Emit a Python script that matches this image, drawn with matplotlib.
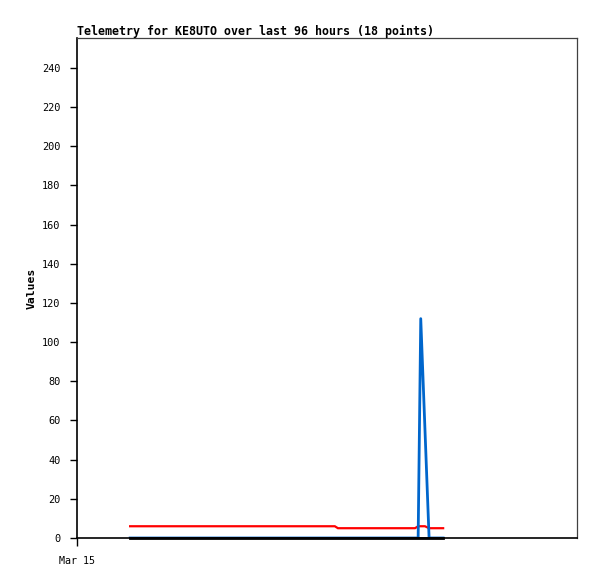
import matplotlib
matplotlib.use("Agg")
import matplotlib.pyplot as plt

# hours since Mar 15 00:00 (axis start)
hours = [10.2, 16.9, 23.6, 30.3, 37.1, 43.8, 49.5, 50.1, 56.3, 62.0,
         64.9, 65.5, 66.0, 66.8, 67.6, 68.2, 69.3, 70.3]
red_vals = [6, 6, 6, 6, 6, 6, 6, 5, 5, 5, 5, 6, 6, 6, 5, 5, 5, 5]
blue_vals = [0, 0, 0, 0, 0, 0, 0, 0, 0, 0, 0, 0, 112, 56, 0, 0, 0, 0]
black_vals = [0] * 18

title = "Telemetry for KE8UTO over last 96 hours (18 points)"
ylabel = "Values"
yticks = [0, 20, 40, 60, 80, 100, 120, 140, 160, 180, 200, 220, 240]
xtick_pos = [0]
xtick_labels = ["Mar 15"]

W, H = 597, 579
fig = plt.figure(figsize=(W / 100, H / 100), dpi=100)
ax = fig.add_axes([77 / W, (H - 538) / H, 500 / W, 500 / H])

mono = "DejaVu Sans Mono"
ax.plot(hours, red_vals, color="#ff0000", lw=1.6, solid_joinstyle="miter")
ax.plot(hours, blue_vals, color="#0066cc", lw=2.0)
ax.plot(hours, black_vals, color="#000000", lw=2.0, clip_on=False, zorder=3)

ax.set_xlim(0, 96)
ax.set_ylim(0, 255.3)
ax.set_yticks(yticks)
ax.set_yticklabels([str(v) for v in yticks], family=mono, fontsize=7.4)
ax.set_xticks(xtick_pos)
ax.set_xticklabels(xtick_labels, family=mono, fontsize=7.2)
ax.tick_params(axis="y", direction="out", length=5, width=1, pad=7, left=True, right=False)
ax.tick_params(axis="x", direction="out", length=6, width=1, pad=7, bottom=True, top=False)

for s in ["top", "right"]:
    ax.spines[s].set_color("#404040")
    ax.spines[s].set_linewidth(0.9)
for s in ["left", "bottom"]:
    ax.spines[s].set_color("#000000")
    ax.spines[s].set_linewidth(1.2)

fig.text(77 / W, 1 - 31 / H, title, family=mono, fontweight="bold",
         fontsize=8.35, ha="left", va="center")
fig.text(32 / W, 1 - 288 / H, ylabel, family=mono, fontweight="bold",
         fontsize=8.2, rotation=90, ha="center", va="center")

fig.savefig("out.png", dpi=100)
